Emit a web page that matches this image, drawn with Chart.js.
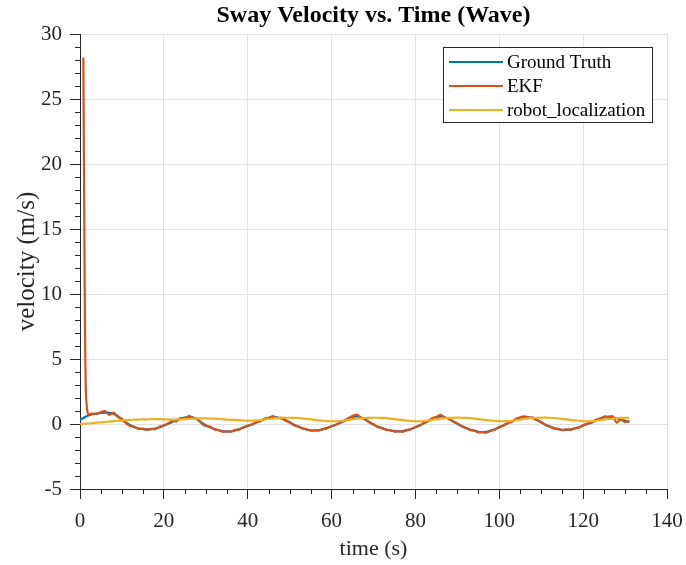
<!DOCTYPE html>
<html>
<head>
<meta charset="utf-8">
<title>Sway Velocity vs. Time (Wave)</title>
<script src="https://cdn.jsdelivr.net/npm/chart.js@4.4.1/dist/chart.umd.min.js"></script>
<style>
  html, body { margin: 0; padding: 0; background: #fff; }
  #wrap { width: 686px; height: 565px; }
</style>
</head>
<body>
<div id="wrap"><canvas id="swayChart"></canvas></div>
<script>
// Series names and colours (MATLAB default line order)
const seriesNames = ['Ground Truth', 'EKF', 'robot_localization'];
const seriesColors = ['#0072BD', '#D95319', '#EDB120'];

// Tick labels
const xTicks = [0, 20, 40, 60, 80, 100, 120, 140];
const yTicks = [-5, 0, 5, 10, 15, 20, 25, 30];

// Sample times (s) shared by ground truth and robot_localization
const sampleTime = [
  0, 1, 2, 3, 4, 5, 6, 7, 8, 9,
  10, 11, 12, 13, 14, 15, 16, 17, 18, 19,
  20, 21, 22, 23, 24, 25, 26, 27, 28, 29,
  30, 31, 32, 33, 34, 35, 36, 37, 38, 39,
  40, 41, 42, 43, 44, 45, 46, 47, 48, 49,
  50, 51, 52, 53, 54, 55, 56, 57, 58, 59,
  60, 61, 62, 63, 64, 65, 66, 67, 68, 69,
  70, 71, 72, 73, 74, 75, 76, 77, 78, 79,
  80, 81, 82, 83, 84, 85, 86, 87, 88, 89,
  90, 91, 92, 93, 94, 95, 96, 97, 98, 99,
  100, 101, 102, 103, 104, 105, 106, 107, 108, 109,
  110, 111, 112, 113, 114, 115, 116, 117, 118, 119,
  120, 121, 122, 123, 124, 125, 126, 127, 128, 129,
  130, 131
];

// Ground truth sway velocity (m/s)
const groundTruth = [
  0.3, 0.5, 0.65, 0.75, 0.8, 0.85, 0.88, 0.85, 0.8, 0.6,
  0.35, 0.1, -0.1, -0.25, -0.35, -0.4, -0.42, -0.4, -0.35, -0.25,
  -0.12, 0.02, 0.15, 0.3, 0.42, 0.5, 0.55, 0.5, 0.35, 0.1,
  -0.1, -0.25, -0.38, -0.48, -0.55, -0.58, -0.56, -0.5, -0.4, -0.28,
  -0.15, -0.03, 0.1, 0.25, 0.38, 0.48, 0.55, 0.52, 0.42, 0.3,
  0.12, -0.05, -0.2, -0.32, -0.42, -0.48, -0.5, -0.48, -0.4, -0.3,
  -0.18, -0.05, 0.08, 0.25, 0.42, 0.55, 0.58, 0.5, 0.35, 0.15,
  -0.05, -0.2, -0.32, -0.42, -0.5, -0.55, -0.57, -0.55, -0.48, -0.38,
  -0.25, -0.1, 0.05, 0.22, 0.4, 0.52, 0.58, 0.52, 0.38, 0.2,
  0.02, -0.15, -0.3, -0.42, -0.52, -0.6, -0.63, -0.6, -0.52, -0.4,
  -0.25, -0.1, 0.05, 0.2, 0.35, 0.48, 0.55, 0.52, 0.45, 0.3,
  0.12, -0.05, -0.2, -0.32, -0.4, -0.45, -0.45, -0.42, -0.35, -0.25,
  -0.12, 0.0, 0.12, 0.28, 0.42, 0.5, 0.55, 0.52, 0.45, 0.35,
  0.25, 0.12
];

// robot_localization estimate (m/s)
const robotLocalization = [
  0, 0.02, 0.04, 0.07, 0.1, 0.13, 0.16, 0.19, 0.22, 0.25,
  0.28, 0.3, 0.32, 0.33, 0.34, 0.35, 0.36, 0.37, 0.37, 0.37,
  0.36, 0.35, 0.34, 0.34, 0.35, 0.37, 0.39, 0.41, 0.42, 0.43,
  0.43, 0.42, 0.41, 0.39, 0.37, 0.34, 0.32, 0.3, 0.28, 0.27,
  0.26, 0.26, 0.28, 0.31, 0.35, 0.39, 0.42, 0.45, 0.47, 0.48,
  0.48, 0.47, 0.46, 0.43, 0.4, 0.36, 0.32, 0.28, 0.25, 0.22,
  0.21, 0.21, 0.23, 0.27, 0.32, 0.37, 0.41, 0.44, 0.46, 0.47,
  0.48, 0.48, 0.47, 0.45, 0.42, 0.38, 0.34, 0.3, 0.26, 0.23,
  0.21, 0.21, 0.23, 0.27, 0.32, 0.37, 0.41, 0.45, 0.47, 0.48,
  0.49, 0.48, 0.47, 0.45, 0.42, 0.38, 0.34, 0.3, 0.27, 0.24,
  0.22, 0.21, 0.22, 0.25, 0.29, 0.34, 0.39, 0.43, 0.46, 0.48,
  0.49, 0.49, 0.48, 0.46, 0.43, 0.4, 0.36, 0.32, 0.28, 0.25,
  0.22, 0.21, 0.22, 0.25, 0.29, 0.34, 0.38, 0.42, 0.45, 0.47,
  0.48, 0.48
];

// EKF sample times (s), starting with the initial transient
const ekfTime = [
  0.8, 1.0, 1.2, 1.4, 1.7,
  2, 3, 4, 5, 6, 7, 8, 9,
  10, 11, 12, 13, 14, 15, 16, 17, 18, 19,
  20, 21, 22, 23, 24, 25, 26, 27, 28, 29,
  30, 31, 32, 33, 34, 35, 36, 37, 38, 39,
  40, 41, 42, 43, 44, 45, 46, 47, 48, 49,
  50, 51, 52, 53, 54, 55, 56, 57, 58, 59,
  60, 61, 62, 63, 64, 65, 66, 67, 68, 69,
  70, 71, 72, 73, 74, 75, 76, 77, 78, 79,
  80, 81, 82, 83, 84, 85, 86, 87, 88, 89,
  90, 91, 92, 93, 94, 95, 96, 97, 98, 99,
  100, 101, 102, 103, 104, 105, 106, 107, 108, 109,
  110, 111, 112, 113, 114, 115, 116, 117, 118, 119,
  120, 121, 122, 123, 124, 125, 126, 127, 128, 129,
  130, 131
];

// EKF estimate (m/s)
const ekfVelocity = [
  28.2, 17, 7, 2.5, 1.1,
  0.75, 0.8, 0.78, 0.92, 1.0, 0.7, 0.88, 0.55,
  0.4, 0.05, -0.15, -0.22, -0.38, -0.35, -0.45, -0.38, -0.4, -0.2,
  -0.1, 0.05, 0.25, 0.2, 0.45, 0.42, 0.62, 0.45, 0.4, 0.05,
  -0.15, -0.2, -0.42, -0.45, -0.6, -0.55, -0.6, -0.45, -0.42, -0.25,
  -0.12, -0.05, 0.15, 0.22, 0.42, 0.45, 0.6, 0.45, 0.48, 0.25,
  0.15, -0.1, -0.18, -0.35, -0.4, -0.52, -0.48, -0.5, -0.38, -0.32,
  -0.15, -0.08, 0.12, 0.22, 0.45, 0.62, 0.72, 0.48, 0.38, 0.12,
  -0.02, -0.25, -0.3, -0.45, -0.48, -0.58, -0.55, -0.6, -0.45, -0.4,
  -0.22, -0.12, 0.08, 0.2, 0.45, 0.55, 0.7, 0.5, 0.42, 0.18,
  0.05, -0.18, -0.28, -0.45, -0.5, -0.65, -0.62, -0.66, -0.5, -0.42,
  -0.22, -0.12, 0.08, 0.18, 0.4, 0.52, 0.58, 0.48, 0.5, 0.28,
  0.15, -0.08, -0.18, -0.35, -0.38, -0.48, -0.42, -0.45, -0.32, -0.28,
  -0.1, 0.03, 0.1, 0.32, 0.4, 0.58, 0.55, 0.6, 0.1, 0.38,
  0.15, 0.25
];

const chartTitle = 'Sway Velocity vs. Time (Wave)';
const serif = "'Liberation Serif', 'Times New Roman', serif";
const axisInk = '#262626';
const gridInk = '#e2e2e2';

function toPoints(xs, ys) {
  return xs.map((x, i) => ({ x: x, y: ys[i] }));
}

// Bold title centred over the plot area (not the whole canvas)
const plotTitle = {
  id: 'plotTitle',
  afterDraw(chart) {
    const ctx = chart.ctx;
    const area = chart.chartArea;
    ctx.save();
    ctx.font = 'bold 24px ' + serif;
    ctx.fillStyle = '#000';
    ctx.textAlign = 'center';
    ctx.textBaseline = 'middle';
    ctx.fillText(chartTitle, (area.left + area.right) / 2, 16);
    ctx.restore();
  }
};

// Short outward minor ticks, like MATLAB's minor tick marks
const minorTicks = {
  id: 'minorTicks',
  afterDraw(chart) {
    const ctx = chart.ctx;
    const xs = chart.scales.x;
    const ys = chart.scales.y;
    const area = chart.chartArea;
    ctx.save();
    ctx.strokeStyle = axisInk;
    ctx.lineWidth = 1;
    ctx.beginPath();
    for (let v = xs.min; v <= xs.max; v += 5) {
      if (v % 20 === 0) continue;
      const px = Math.round(xs.getPixelForValue(v)) + 0.5;
      ctx.moveTo(px, area.bottom);
      ctx.lineTo(px, area.bottom + 5);
    }
    for (let v = ys.min; v <= ys.max; v += 1) {
      if (v % 5 === 0) continue;
      const py = Math.round(ys.getPixelForValue(v)) + 0.5;
      ctx.moveTo(area.left, py);
      ctx.lineTo(area.left - 5, py);
    }
    ctx.stroke();
    ctx.restore();
  }
};

// Boxed legend in the upper right of the plot area
const boxedLegend = {
  id: 'boxedLegend',
  afterDatasetsDraw(chart) {
    const ctx = chart.ctx;
    const area = chart.chartArea;
    const width = 209;
    const rowGap = 24;
    const height = 75;
    const right = area.right - 15;
    const left = right - width;
    const top = area.top + 13;

    ctx.save();
    ctx.fillStyle = '#fff';
    ctx.fillRect(left, top, width, height);
    ctx.strokeStyle = axisInk;
    ctx.lineWidth = 1;
    ctx.strokeRect(Math.round(left) + 0.5, Math.round(top) + 0.5, width, height);

    ctx.font = '19px ' + serif;
    ctx.textAlign = 'left';
    ctx.textBaseline = 'middle';
    seriesNames.forEach((name, i) => {
      const y = top + 15 + i * rowGap;
      ctx.strokeStyle = seriesColors[i];
      ctx.lineWidth = 2;
      ctx.beginPath();
      ctx.moveTo(left + 6, y);
      ctx.lineTo(left + 60, y);
      ctx.stroke();
      ctx.fillStyle = '#000';
      ctx.fillText(name, left + 64, y + 1);
    });
    ctx.restore();
  }
};

document.addEventListener('DOMContentLoaded', function() {
  const canvas = document.getElementById('swayChart');

  new Chart(canvas, {
    type: 'line',
    data: {
      datasets: [{
        label: seriesNames[0],
        data: toPoints(sampleTime, groundTruth),
        borderColor: seriesColors[0],
        borderWidth: 2.2,
        tension: 0.35,
        order: 3
      }, {
        label: seriesNames[1],
        data: toPoints(ekfTime, ekfVelocity),
        borderColor: seriesColors[1],
        borderWidth: 2.2,
        tension: 0.2,
        order: 2
      }, {
        label: seriesNames[2],
        data: toPoints(sampleTime, robotLocalization),
        borderColor: seriesColors[2],
        borderWidth: 2.2,
        tension: 0.4,
        order: 1
      }]
    },
    options: {
      responsive: true,
      maintainAspectRatio: false,
      animation: false,
      devicePixelRatio: 1,
      elements: {
        point: { radius: 0 }
      },
      layout: {
        padding: { left: 0, right: 19, top: 34, bottom: 0 }
      },
      scales: {
        x: {
          type: 'linear',
          min: 0,
          max: 140,
          afterBuildTicks: (scale) => {
            scale.ticks = xTicks.map(v => ({ value: v }));
          },
          afterFit: (scale) => {
            // fixed axis band; the end labels may overhang the plot edges
            scale.height = 76;
            scale.paddingLeft = 0;
            scale.paddingRight = 0;
          },
          grid: {
            color: gridInk,
            tickColor: axisInk,
            tickLength: 10,
            drawTicks: true
          },
          border: { display: true, color: axisInk, width: 1 },
          ticks: {
            autoSkip: false,
            maxRotation: 0,
            padding: 10,
            color: axisInk,
            font: { family: serif, size: 21 }
          },
          title: {
            display: true,
            text: 'time (s)',
            color: axisInk,
            font: { family: serif, size: 22 },
            padding: { top: 0, bottom: 3 }
          }
        },
        y: {
          type: 'linear',
          min: -5,
          max: 30,
          afterBuildTicks: (scale) => {
            scale.ticks = yTicks.map(v => ({ value: v }));
          },
          afterFit: (scale) => {
            scale.width = 80;
            scale.paddingTop = 0;
            scale.paddingBottom = 0;
          },
          grid: {
            color: gridInk,
            tickColor: axisInk,
            tickLength: 10,
            drawTicks: true
          },
          border: { display: true, color: axisInk, width: 1 },
          ticks: {
            autoSkip: false,
            padding: 8,
            color: axisInk,
            font: { family: serif, size: 21 }
          },
          title: {
            display: true,
            text: 'velocity (m/s)',
            color: axisInk,
            font: { family: serif, size: 25 },
            padding: { top: 12, bottom: 0 }
          }
        }
      },
      plugins: {
        legend: { display: false },
        tooltip: { enabled: false },
        title: { display: false }
      }
    },
    plugins: [plotTitle, minorTicks, boxedLegend]
  });
});
</script>
</body>
</html>
